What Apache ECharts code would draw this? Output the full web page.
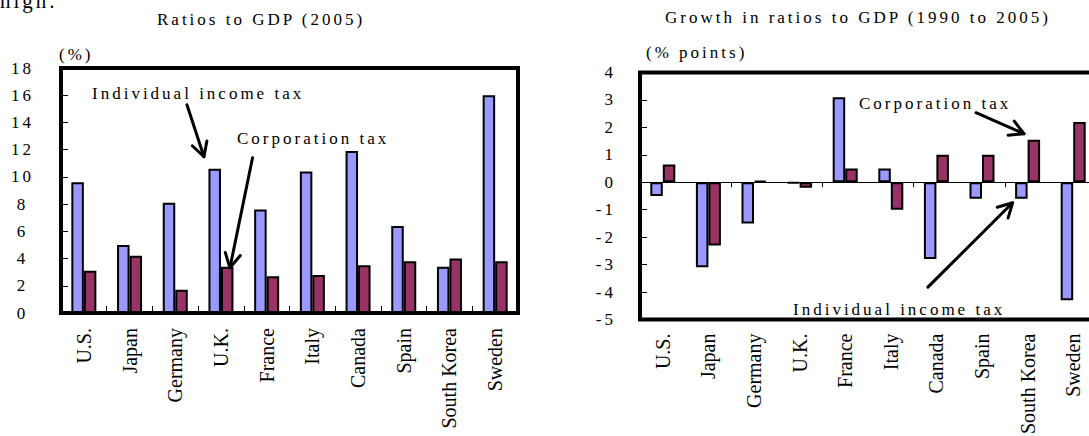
<!DOCTYPE html>
<html>
<head>
<meta charset="utf-8">
<script src="https://cdn.jsdelivr.net/npm/echarts@6/dist/echarts.min.js"></script>
<style>
  html, body { margin: 0; padding: 0; background: #fff; }
  /* the horizontal texts of this figure are set with wide tracking */
  #chart { width: 1089px; height: 436px; letter-spacing: 3px; }
</style>
</head>
<body>
<div id="chart"></div>
<script>
const SERIF = "'Liberation Serif', 'Times New Roman', serif";
const BLACK = '#000';
const INCOME_COLOR = '#9999FF';
const CORP_COLOR = '#993366';
const TEXT_SIZE = 17;

const categories = ['U.S.', 'Japan', 'Germany', 'U.K.', 'France', 'Italy', 'Canada', 'Spain', 'South Korea', 'Sweden'];

// Ratios to GDP in 2005 (%)
const incomeTaxRatio = [9.6, 5.0, 8.1, 10.6, 7.6, 10.4, 11.9, 6.4, 3.4, 16.0];
const corporationTaxRatio = [3.1, 4.2, 1.7, 3.4, 2.7, 2.8, 3.5, 3.8, 4.0, 3.8];

// Growth in ratios to GDP, 1990 to 2005 (% points)
const incomeTaxGrowth = [-0.5, -3.1, -1.5, -0.03, 3.1, 0.5, -2.8, -0.6, -0.6, -4.3];
const corporationTaxGrowth = [0.65, -2.3, 0.05, -0.2, 0.5, -1.0, 1.0, 1.0, 1.55, 2.2];

// value axes: [min, max, step]
const ratioAxis = [0, 18, 2];
const growthAxis = [-5, 4, 1];

const chart = echarts.init(document.getElementById('chart'), null, {
  renderer: 'svg', width: 1089, height: 436
});

function frame(left, top, width, height) {
  return {
    left, top, width, height,
    show: true, z: 3,
    backgroundColor: 'rgba(0,0,0,0)',
    borderColor: BLACK, borderWidth: 4,
    containLabel: false, outerBoundsMode: 'none'
  };
}

function categoryLabels(margin, shift) {
  return {
    interval: 0, rotate: 90, margin,
    fontFamily: SERIF, fontSize: 20, color: BLACK,
    padding: [0, 0, shift, 0]
  };
}

function barSeries(name, axis, data, color) {
  return {
    name, type: 'bar', xAxisIndex: axis, yAxisIndex: axis === 0 ? 0 : 1,
    data, barWidth: 12.5, barGap: '0%',
    itemStyle: { color, borderColor: BLACK, borderWidth: 2 }
  };
}

const innerTick = len => ({ show: true, inside: true, length: len, lineStyle: { color: BLACK, width: 1 } });
const axisText = extra => Object.assign({ fontFamily: SERIF, fontSize: TEXT_SIZE, color: BLACK }, extra);

chart.setOption({
  animation: false,
  backgroundColor: '#fff',
  textStyle: { fontFamily: SERIF, color: BLACK },
  grid: [
    frame(61, 68, 457, 245),
    frame(640, 72.5, 456, 247)
  ],
  xAxis: [
    {
      gridIndex: 0, type: 'category', data: categories,
      axisLine: { show: false }, axisTick: innerTick(7),
      axisLabel: categoryLabels(15, 9), splitLine: { show: false }
    },
    {
      gridIndex: 1, type: 'category', data: categories, position: 'bottom',
      axisLine: { show: false, onZero: false }, axisTick: { show: false },
      axisLabel: categoryLabels(14, 7), splitLine: { show: false }
    },
    {
      // zero line of the growth panel
      gridIndex: 1, type: 'category', data: categories,
      axisLine: { show: true, onZero: true, lineStyle: { color: BLACK, width: 1 } },
      axisTick: innerTick(5), axisLabel: { show: false }, splitLine: { show: false }
    }
  ],
  yAxis: [
    {
      gridIndex: 0, type: 'value',
      min: ratioAxis[0], max: ratioAxis[1], interval: ratioAxis[2],
      name: '(%)', nameLocation: 'end', nameGap: 5, nameMoveOverlap: false,
      nameTextStyle: axisText({ align: 'left', padding: [0, 0, 0, -2] }),
      axisLine: { show: false }, axisTick: innerTick(7),
      axisLabel: axisText({ align: 'center', margin: 38.5 }),
      splitLine: { show: false }
    },
    {
      gridIndex: 1, type: 'value',
      min: growthAxis[0], max: growthAxis[1], interval: growthAxis[2],
      name: '(% points)', nameLocation: 'end', nameGap: 12, nameMoveOverlap: false,
      nameTextStyle: axisText({ align: 'left', padding: [0, 0, 0, 6] }),
      axisLine: { show: false }, axisTick: innerTick(7),
      axisLabel: axisText({ margin: 24 }),
      splitLine: { show: false }
    }
  ],
  series: [
    barSeries('Individual income tax', 0, incomeTaxRatio, INCOME_COLOR),
    barSeries('Corporation tax', 0, corporationTaxRatio, CORP_COLOR),
    barSeries('Individual income tax', 1, incomeTaxGrowth, INCOME_COLOR),
    barSeries('Corporation tax', 1, corporationTaxGrowth, CORP_COLOR)
  ]
});

// Annotation arrows are anchored on the bars they point at.
function at(panel, index, value, dx, dy) {
  const p = chart.convertToPixel({ xAxisIndex: panel, yAxisIndex: panel === 0 ? 0 : 1 }, [index, value]);
  return [p[0] + dx, p[1] + dy];
}

function arrow(tip, back, head = 16, spread = 0.5) {
  const from = [tip[0] + back[0], tip[1] + back[1]];
  const ang = Math.atan2(back[1], back[0]);
  const w1 = [tip[0] + head * Math.cos(ang + spread), tip[1] + head * Math.sin(ang + spread)];
  const w2 = [tip[0] + head * Math.cos(ang - spread), tip[1] + head * Math.sin(ang - spread)];
  const style = { stroke: BLACK, lineWidth: 3, fill: null, lineCap: 'round', lineJoin: 'round' };
  return [
    { type: 'line', z: 10, shape: { x1: from[0], y1: from[1], x2: tip[0], y2: tip[1] }, style },
    { type: 'polyline', z: 10, shape: { points: [w1, tip, w2] }, style }
  ];
}

function label(text, x, y, size = TEXT_SIZE) {
  return {
    type: 'text', x, y, z: 10,
    style: { text, fill: BLACK, font: size + 'px ' + SERIF, textAlign: 'left', textVerticalAlign: 'middle' }
  };
}

const uk = categories.indexOf('U.K.');
const korea = categories.indexOf('South Korea');

chart.setOption({
  graphic: [
    label('high.', 0, 1, 21),
    label('Ratios to GDP (2005)', 157, 19.5),
    label('Growth in ratios to GDP (1990 to 2005)', 665, 17),
    label('Individual income tax', 92, 93),
    label('Corporation tax', 237, 138.5),
    label('Corporation tax', 859, 103),
    label('Individual income tax', 793, 309),
    ...arrow(at(0, uk, incomeTaxRatio[uk], -17, -12), [-17, -52]),
    ...arrow(at(0, uk, corporationTaxRatio[uk], 9, 1), [22.6, -110]),
    ...arrow(at(1, korea, corporationTaxGrowth[korea], -3.6, -6), [-48, -21]),
    ...arrow(at(1, korea, incomeTaxGrowth[korea], -15, 4), [-84.7, 84.4])
  ]
});

// category names on the rotated axes use normal tracking
function resetCategoryTracking() {
  document.querySelectorAll('#chart text').forEach(t => {
    if (categories.includes(t.textContent.trim())) t.style.letterSpacing = '0px';
  });
}
chart.on('finished', resetCategoryTracking);
resetCategoryTracking();
</script>
</body>
</html>
